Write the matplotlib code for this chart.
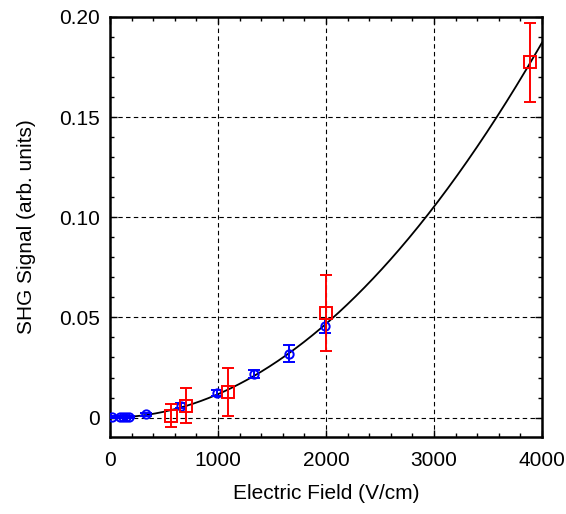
import matplotlib

matplotlib.use("Agg")
import matplotlib.pyplot as plt
import numpy as np
from matplotlib.ticker import MultipleLocator

# blue circles: field (V/cm), signal, error
blue_x = [15, 90, 120, 150, 175, 330, 662, 991, 1329, 1655, 1994]
blue_y = [0.0002, 0.0002, 0.0003, 0.0003, 0.0003, 0.0017, 0.0060, 0.0125, 0.0217, 0.0318, 0.0457]
blue_err = [0.0004, 0.0004, 0.0004, 0.0004, 0.0004, 0.0008, 0.0012, 0.0015, 0.0020, 0.0043, 0.0037]

# red squares
red_x = [569, 701, 1095, 2000, 3893]
red_y = [0.0010, 0.0060, 0.0130, 0.0520, 0.1773]
red_err = [0.0056, 0.0086, 0.0120, 0.0190, 0.0199]

# quadratic fit coefficient
fit_a = 1.17e-8

plt.rcParams["font.family"] = ["Liberation Sans", "DejaVu Sans"]

fig = plt.figure(figsize=(5.66, 5.14), dpi=100)
ax = fig.add_axes([110 / 566, 1 - 437 / 514, 432 / 566, 420 / 514])

xf = np.linspace(0, 4000, 400)
ax.plot(xf, fit_a * xf**2, color="black", linewidth=1.3, zorder=3)

ax.errorbar(blue_x, blue_y, yerr=blue_err, fmt="o", color="blue",
            mfc="none", mec="blue", ms=6, mew=1.4, elinewidth=1.4,
            capsize=4, capthick=1.4, zorder=4)
ax.errorbar(red_x, red_y, yerr=red_err, fmt="s", color="red",
            mfc="none", mec="red", ms=8, mew=1.4, elinewidth=1.4,
            capsize=4, capthick=1.4, zorder=5)

ax.set_xlim(0, 4000)
ax.set_ylim(-0.0097, 0.20)
ax.xaxis.set_minor_locator(MultipleLocator(200))
ax.yaxis.set_minor_locator(MultipleLocator(0.01))
ax.set_yticks([0, 0.05, 0.10, 0.15, 0.20])
ax.set_yticklabels(["0", "0.05", "0.10", "0.15", "0.20"])
ax.set_xticks([0, 1000, 2000, 3000, 4000])
ax.set_xticklabels(["0", "1000", "2000", "3000", "4000"])

ax.tick_params(which="both", direction="in", top=True, right=True,
               labelsize=15, width=1.0)
ax.tick_params(axis="x", which="major", pad=10)
ax.tick_params(axis="y", which="major", pad=7)
ax.tick_params(which="major", length=5)
ax.tick_params(which="minor", length=3)
for s in ax.spines.values():
    s.set_linewidth(1.8)

ax.grid(True, which="major", color="black", linestyle=(0, (4, 3)), linewidth=0.8)

ax.set_xlabel("Electric Field (V/cm)", fontsize=15, labelpad=10)
ax.set_ylabel("SHG Signal (arb. units)", fontsize=15, labelpad=17)

fig.savefig("out.png", dpi=100)
